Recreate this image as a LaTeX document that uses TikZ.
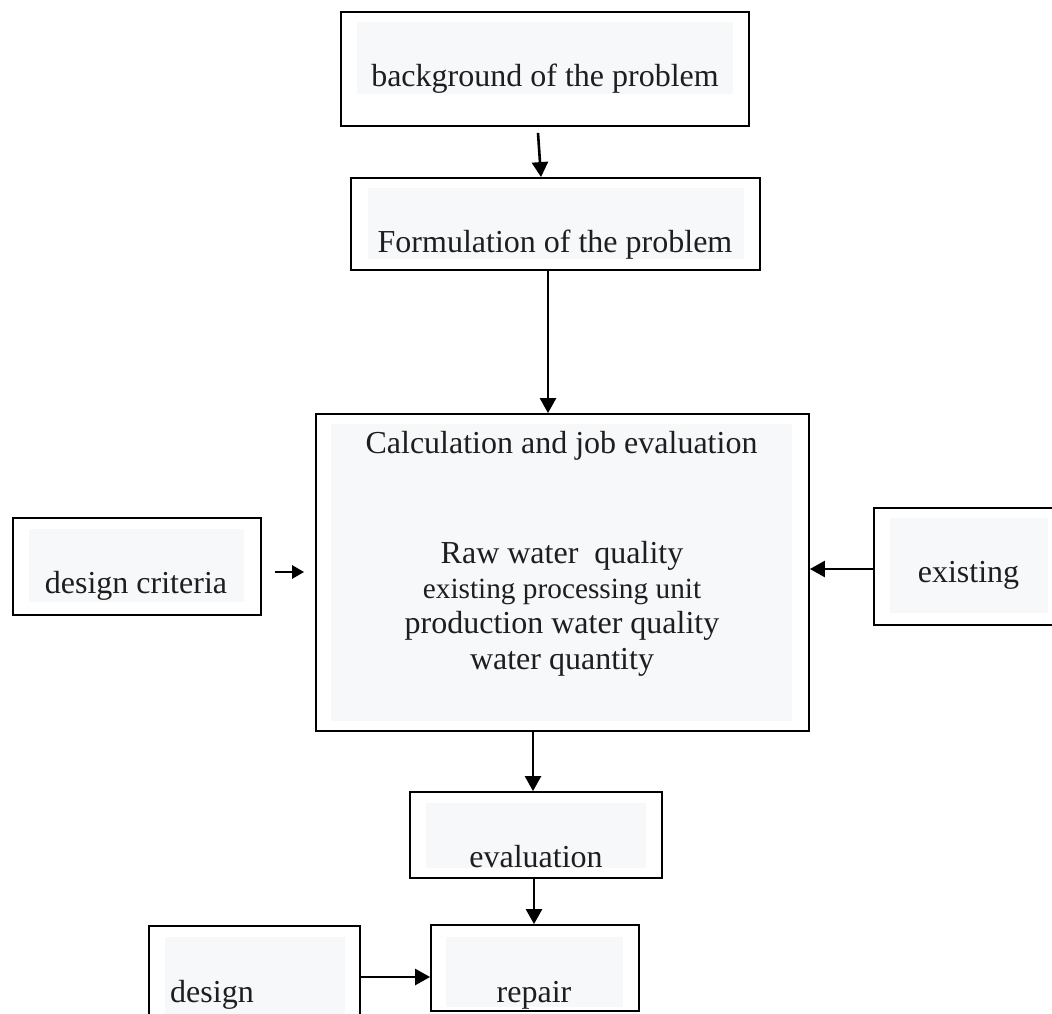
\documentclass[tikz,border=0pt]{standalone}
\usepackage{fontspec}
\setmainfont{Liberation Serif}
\usetikzlibrary{arrows.meta}
\definecolor{innerfill}{RGB}{247,248,250}
\definecolor{txt}{RGB}{30,30,30}
\tikzset{
  boxframe/.style={draw=black, line width=1.8pt, inner sep=0pt, fill=none},
  innerbg/.style={fill=innerfill, draw=none},
  lbl/.style={anchor=base, inner sep=0pt, text=txt, font=\fontsize{32}{38}\selectfont},
  lblsmall/.style={anchor=base, inner sep=0pt, text=txt, font=\fontsize{29.3}{35}\selectfont},
  arr/.style={line width=2.6pt, -{Triangle[length=15pt,width=16pt]}},
}
\begin{document}
\begin{tikzpicture}[x=1pt,y=-1pt]
\useasboundingbox (0,0) rectangle (1052,1014);
\clip (0,0) rectangle (1052,1014);
\fill[white] (0,0) rectangle (1052,1014);
% inner backgrounds
\fill[innerbg] (357,22) rectangle (733,94);
\fill[innerbg] (368,188) rectangle (744,259);
\fill[innerbg] (331,424) rectangle (792,721);
\fill[innerbg] (29,529) rectangle (244,602);
\fill[innerbg] (890,518) rectangle (1048,613);
\fill[innerbg] (426,803) rectangle (646,868);
\fill[innerbg] (446,937) rectangle (623,1007);
\fill[innerbg] (165,937) rectangle (345,1020);
% frames
\node[boxframe, minimum width=408pt, minimum height=114pt] (b1) at (545,69) {};
\node[boxframe, minimum width=409pt, minimum height=92pt] (b2) at (555.5,224) {};
\node[boxframe, minimum width=493pt, minimum height=317pt] (b3) at (562.5,572.5) {};
\node[boxframe, minimum width=248pt, minimum height=97pt] (bl) at (137,566.5) {};
\node[boxframe, minimum width=190pt, minimum height=117pt] (br) at (969,566.5) {};
\node[boxframe, minimum width=252pt, minimum height=86pt] (be) at (536,835) {};
\node[boxframe, minimum width=208pt, minimum height=86pt] (bp) at (535,968) {};
\node[boxframe, minimum width=211pt, minimum height=110pt] (bd) at (254.5,981) {};
% texts
\node[lbl] (t1) at (545,87) {background of the problem};
\node[lbl] (t2) at (555,252) {Formulation of the problem};
\node[lbl] (t3) at (561.5,453) {Calculation and job evaluation};
\node[lbl] (t4) at (562,563) {Raw water\ \ quality};
\node[lblsmall] (t5) at (562,598) {existing processing unit};
\node[lbl] (t6) at (562,633) {production water quality};
\node[lbl] (t7) at (562,669) {water quantity};
\node[lbl] (tl) at (136,593) {design criteria};
\node[lbl] (tr) at (968.5,582) {existing};
\node[lbl] (te) at (536,867) {evaluation};
\node[lbl] (tp) at (534,1002) {repair};
\node[lbl, anchor=base west] (td) at (170,1002) {design};
% connectors
\coordinate (dA) at ([yshift=4pt]bd.east);
\draw[arr] ([xshift=-7pt,yshift=-6pt]b1.south) -- ([xshift=-14.5pt]b2.north);
\draw[arr] ([xshift=-7.5pt]b2.south) -- ([xshift=-14.5pt]b3.north);
\draw[arr] ([xshift=-29.5pt]b3.south) -- ([xshift=-3pt]be.north);
\draw[arr] ([xshift=-2pt]be.south) -- ([xshift=-1pt]bp.north);
\draw[arr, -{Triangle[length=12pt,width=13pt]}] ([xshift=13pt,yshift=-5.5pt]bl.east) -- ([xshift=-11pt,yshift=0.5pt]b3.west);
\draw[arr] ([yshift=-2.5pt]br.west) -- ([yshift=3.5pt]b3.east);
\draw[arr] (dA) -- (dA -| bp.west);
\end{tikzpicture}
\end{document}
